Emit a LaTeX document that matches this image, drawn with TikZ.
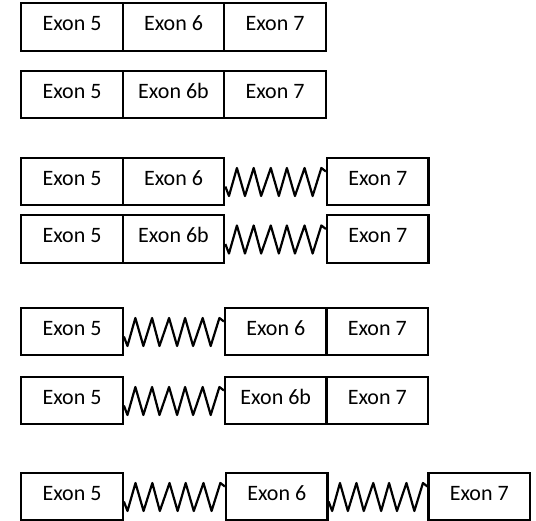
\documentclass[tikz,border=0pt]{standalone}
\usepackage{fontspec}
\setmainfont{Carlito}
\usetikzlibrary{calc}
\newcommand\zigline[2]{%
  \draw[zz] ($(#1.east)+(0,5)$)
    -- ($(#1.east)!0.036!(#2.west)+(0,14.5)$)
    -- ($(#1.east)!0.115!(#2.west)+(0,-13.5)$)
    -- ($(#1.east)!0.195!(#2.west)+(0,14.5)$)
    -- ($(#1.east)!0.282!(#2.west)+(0,-13.5)$)
    -- ($(#1.east)!0.356!(#2.west)+(0,14.5)$)
    -- ($(#1.east)!0.452!(#2.west)+(0,-13.5)$)
    -- ($(#1.east)!0.532!(#2.west)+(0,14.5)$)
    -- ($(#1.east)!0.612!(#2.west)+(0,-13.5)$)
    -- ($(#1.east)!0.692!(#2.west)+(0,14.5)$)
    -- ($(#1.east)!0.788!(#2.west)+(0,-13.5)$)
    -- ($(#1.east)!0.868!(#2.west)+(0,14.5)$)
    -- ($(#1.east)!0.955!(#2.west)+(0,-13.5)$)
    -- ($(#2.west)+(0,-10)$);}
\begin{document}
\begin{tikzpicture}[x=1pt,y=-1pt,
  exon/.style={draw, line width=2.2pt, minimum width=101.5pt, minimum height=47.5pt,
    inner sep=0pt, font=\fontsize{22}{26}\selectfont, text height=14pt, text depth=6pt},
  zz/.style={line width=2.2pt, line join=round}]
\useasboundingbox (0,0) rectangle (536,521);
% row 1
\node[exon] (a1) at (72,27) {Exon 5};
\node[exon] (a2) at (173.5,27) {Exon 6};
\node[exon] (a3) at (275,27) {Exon 7};
% row 2
\node[exon] (b1) at (72,94.5) {Exon 5};
\node[exon] (b2) at (173.5,94.5) {Exon 6b};
\node[exon] (b3) at (275,94.5) {Exon 7};
% row 3
\node[exon] (c1) at (72,181.5) {Exon 5};
\node[exon] (c2) at (173.5,181.5) {Exon 6};
\node[exon] (c3) at (377.75,181.5) {Exon 7};
\zigline{c2}{c3}
% row 4
\node[exon] (d1) at (72,239) {Exon 5};
\node[exon] (d2) at (173.5,239) {Exon 6b};
\node[exon] (d3) at (377.75,239) {Exon 7};
\zigline{d2}{d3}
% row 5
\node[exon] (e1) at (72,331.5) {Exon 5};
\node[exon] (e2) at (275.75,331.5) {Exon 6};
\node[exon] (e3) at (377.25,331.5) {Exon 7};
\zigline{e1}{e2}
% row 6
\node[exon] (f1) at (72,400.5) {Exon 5};
\node[exon] (f2) at (275.75,400.5) {Exon 6b};
\node[exon] (f3) at (377.25,400.5) {Exon 7};
\zigline{f1}{f2}
% row 7
\node[exon] (g1) at (72,496.5) {Exon 5};
\node[exon] (g2) at (276.75,496.5) {Exon 6};
\node[exon] (g3) at (479.25,496.5) {Exon 7};
\zigline{g1}{g2}
\zigline{g2}{g3}
\end{tikzpicture}
\end{document}
